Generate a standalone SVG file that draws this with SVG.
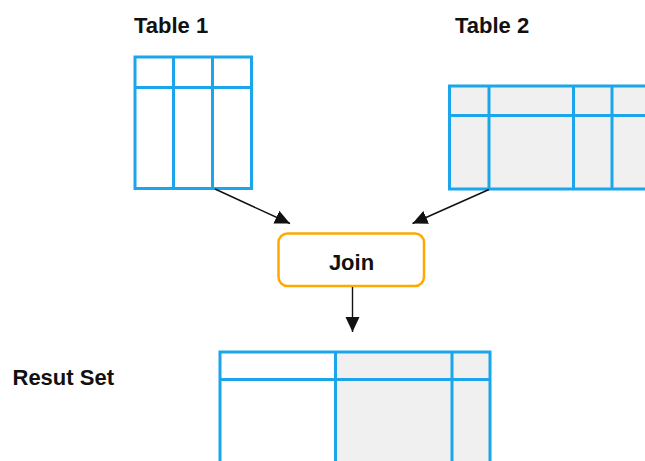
<svg xmlns="http://www.w3.org/2000/svg" width="645" height="461" viewBox="0 0 645 461">
  <style>
    .label { font-family: "Liberation Sans", Arial, sans-serif; font-weight: bold; font-size: 22px; fill: #111; }
    .grid { fill: none; stroke: #1BA6EC; stroke-width: 3; }
    .shade { fill: #F0F0F0; stroke: none; }
    .edge { stroke: #111; stroke-width: 1.4; fill: none; marker-end: url(#arrow); }
  </style>
  <defs>
    <marker id="arrow" markerUnits="userSpaceOnUse" markerWidth="16" markerHeight="16" viewBox="0 0 16 16" refX="15" refY="8" orient="auto">
      <path d="M0,1 L15,8 L0,15 Z" fill="#111"/>
    </marker>
  </defs>
  <rect width="645" height="461" fill="#fff"/>

  <!-- Table 1 -->
  <g id="table1">
    <text class="label" x="134" y="32.5">Table 1</text>
    <rect class="grid" x="135" y="57" width="116.5" height="131.5"/>
    <line class="grid" x1="135" y1="87.5" x2="251.5" y2="87.5"/>
    <line class="grid" x1="173.5" y1="57" x2="173.5" y2="188.5"/>
    <line class="grid" x1="212.5" y1="57" x2="212.5" y2="188.5"/>
  </g>

  <!-- Table 2 -->
  <g id="table2">
    <text class="label" x="455" y="32.5">Table 2</text>
    <rect class="shade" x="449.5" y="86" width="200" height="103"/>
    <path class="grid" d="M650,86 H449.5 V189 H650"/>
    <line class="grid" x1="449.5" y1="115.5" x2="650" y2="115.5"/>
    <line class="grid" x1="489" y1="86" x2="489" y2="189"/>
    <line class="grid" x1="573.5" y1="86" x2="573.5" y2="189"/>
    <line class="grid" x1="612" y1="86" x2="612" y2="189"/>
  </g>

  <!-- Join -->
  <g id="join">
    <rect x="278.5" y="233.5" width="145.5" height="52.5" rx="9" fill="#fff" stroke="#FFA800" stroke-width="2.5"/>
    <text class="label" x="351.5" y="270" text-anchor="middle">Join</text>
  </g>

  <!-- Result set -->
  <g id="result">
    <text class="label" x="12.5" y="385">Resut Set</text>
    <rect class="shade" x="335.5" y="352" width="154.5" height="115"/>
    <path class="grid" d="M220,470 V352 H490 V470"/>
    <line class="grid" x1="220" y1="379.5" x2="490" y2="379.5"/>
    <line class="grid" x1="335.5" y1="352" x2="335.5" y2="470"/>
    <line class="grid" x1="452" y1="352" x2="452" y2="470"/>
  </g>

  <!-- Connectors -->
  <g id="connectors">
    <line class="edge" x1="215" y1="189" x2="290" y2="223.5"/>
    <line class="edge" x1="489" y1="189.5" x2="412.5" y2="223.5"/>
    <line class="edge" x1="352.5" y1="287" x2="352.5" y2="332"/>
  </g>
</svg>
